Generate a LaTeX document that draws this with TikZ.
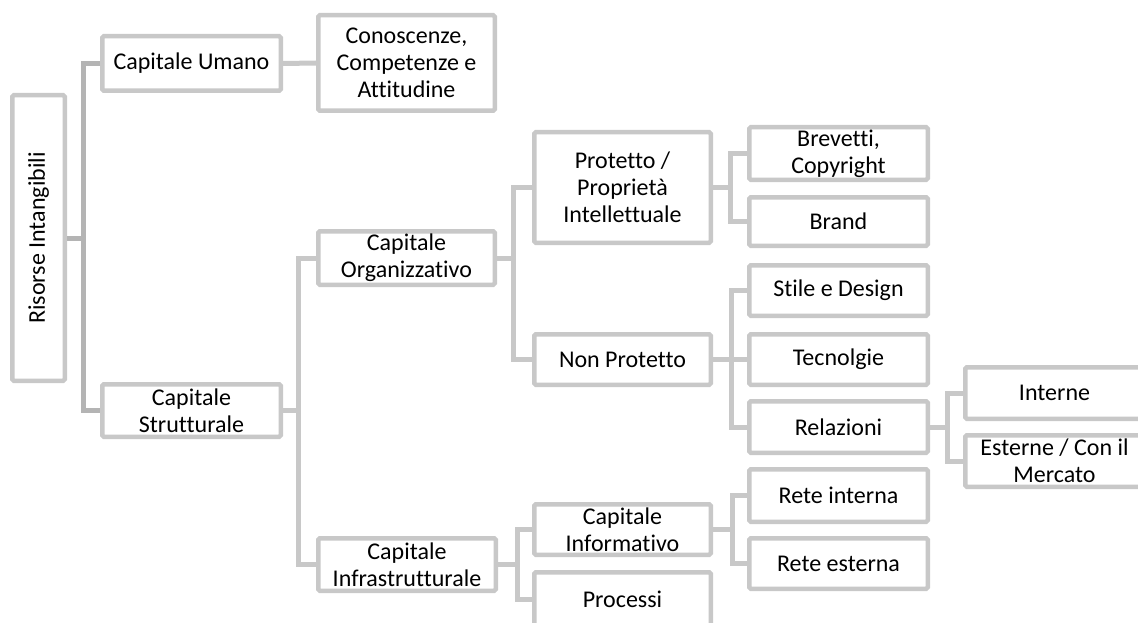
\documentclass[tikz,border=0pt]{standalone}
\usepackage{fontspec}
\usepackage{graphicx}
\setmainfont{Carlito}[Ligatures={NoCommon}]
\definecolor{boxline}{RGB}{200,200,200}
\definecolor{rootline}{RGB}{180,180,180}
\begin{document}
\begin{tikzpicture}[x=1pt,y=-1pt,
  box/.style={draw=boxline, line width=4.5pt, rounded corners=1.5pt, fill=white,
    align=center, inner sep=0pt,
    font=\fontsize{24}{27}\selectfont},
  conn/.style={draw=boxline, line width=5pt},
  rootconn/.style={draw=rootline, line width=5pt}]
\useasboundingbox (0,0) rectangle (1138,623);
\clip (0,0) rectangle (1138,623);

% junction points of the tree, one per parent box
\coordinate (j0) at (83,238);
\coordinate (j1) at (298,410.5);
\coordinate (j2) at (513,258);
\coordinate (j3) at (730,187.5);
\coordinate (j4) at (731,359.5);
\coordinate (j5) at (947,427);
\coordinate (j6) at (517,564.5);
\coordinate (j7) at (732,529.5);

% boxes
\node[box, minimum width=52.5pt, minimum height=285.5pt] (root) at (38.5,238) {\rotatebox{90}{Risorse Intangibili}};
\node[box, minimum width=178.5pt, minimum height=54.5pt] (umano) at (191.5,63.5) {Capitale Umano};
\node[box, minimum width=176.5pt, minimum height=95.5pt] (conosc) at (406.5,63) {Conoscenze,\\Competenze e\\Attitudine};
\node[box, minimum width=178.5pt, minimum height=52.5pt] (strutt) at (191.5,410.5) {Capitale\\Strutturale};
\node[box, minimum width=176.5pt, minimum height=53.5pt] (organ) at (406.5,258) {Capitale\\Organizzativo};
\node[box, minimum width=177.5pt, minimum height=52.5pt] (infra) at (407,564.5) {Capitale\\Infrastrutturale};
\node[box, minimum width=176.5pt, minimum height=110.5pt] (prot) at (622.5,187.5) {Protetto /\\Proprietà\\Intellettuale};
\node[box, minimum width=176.5pt, minimum height=50.5pt] (nonprot) at (622.5,359.5) {Non Protetto};
\node[box, minimum width=178.5pt, minimum height=52.5pt] (brev) at (838.5,153.5) {Brevetti,\\Copyright};
\node[box, minimum width=178.5pt, minimum height=48.5pt] (brand) at (838.5,221.5) {Brand};
\node[box, minimum width=178.5pt, minimum height=50.5pt] (stile) at (838.5,290.5) {Stile e Design};
\node[box, minimum width=178.5pt, minimum height=50.5pt] (tecn) at (838.5,359.5) {Tecnolgie};
\node[box, minimum width=178.5pt, minimum height=51.5pt] (relaz) at (838.5,427) {Relazioni};
\node[box, minimum width=178.5pt, minimum height=51.5pt] (interne) at (1054.5,393) {Interne};
\node[box, minimum width=178.5pt, minimum height=51.5pt] (esterne) at (1054.5,461) {Esterne / Con il\\Mercato};
\node[box, minimum width=176.5pt, minimum height=50.5pt] (inform) at (622.5,529.5) {Capitale\\Informativo};
\node[box, minimum width=176.5pt, minimum height=53.5pt] (proc) at (622.5,599) {Processi};
\node[box, minimum width=178.5pt, minimum height=52.5pt] (reteint) at (838.5,495.5) {Rete interna};
\node[box, minimum width=178.5pt, minimum height=50.5pt] (reteest) at (838.5,563.5) {Rete esterna};

% tree connectors
\draw[rootconn] (root.east) -- (j0);
\draw[rootconn] (umano.west) -| (j0) |- (strutt.west);

\draw[conn] (umano.east) -- (conosc.west);

\draw[conn] (strutt.east) -- (j1);
\draw[conn] (organ.west) -| (j1) |- (infra.west);

\draw[conn] (organ.east) -- (j2);
\draw[conn] (prot.west) -| (j2) |- (nonprot.west);

\draw[conn] (prot.east) -- (j3);
\draw[conn] (brev.west) -| (j3) |- (brand.west);

\draw[conn] (nonprot.east) -- (j4);
\draw[conn] (stile.west) -| (j4) |- (relaz.west);
\draw[conn] (tecn.west) -- (j4 |- tecn.west);

\draw[conn] (relaz.east) -- (j5);
\draw[conn] (interne.west) -| (j5) |- (esterne.west);

\draw[conn] (infra.east) -- (j6);
\draw[conn] (inform.west) -| (j6) |- (proc.west);

\draw[conn] (inform.east) -- (j7);
\draw[conn] (reteint.west) -| (j7) |- (reteest.west);
\end{tikzpicture}
\end{document}
